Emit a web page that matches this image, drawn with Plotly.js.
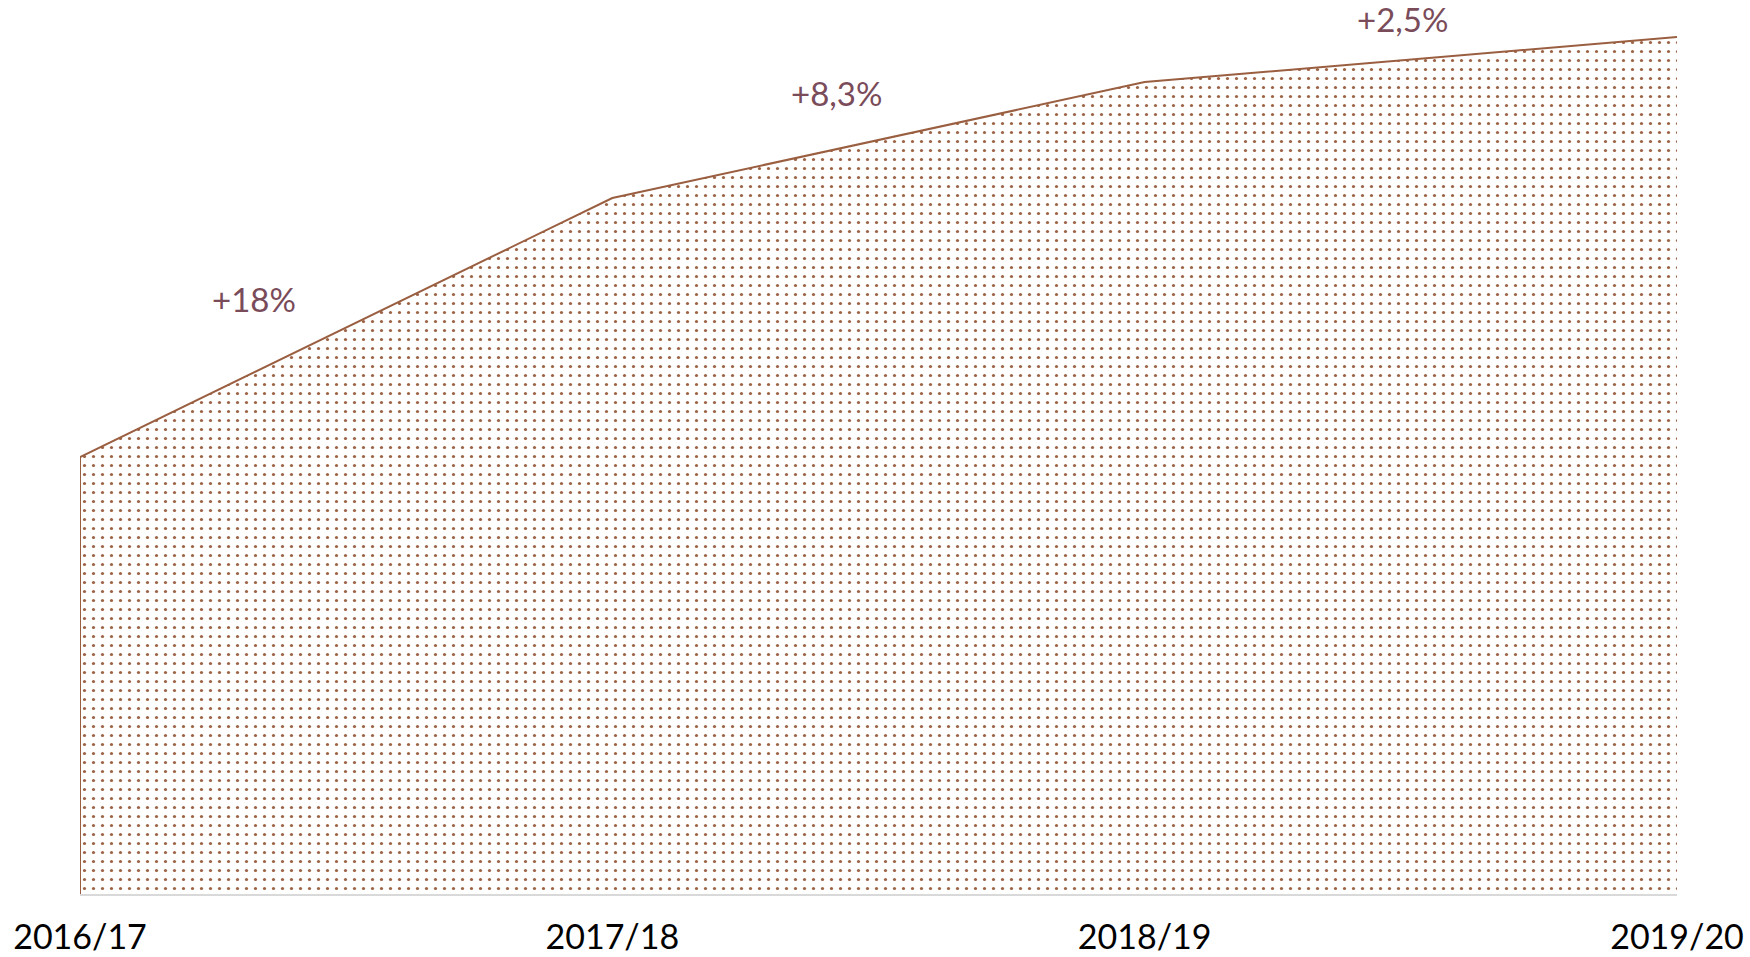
<!DOCTYPE html>
<html>
<head>
<meta charset="utf-8">
<script src="https://cdn.plot.ly/plotly-3.0.1.min.js"></script>
<style>html,body{margin:0;padding:0;background:#fff;}#chart{width:1750px;height:957px;}</style>
</head>
<body>
<div id="chart"></div>
<script>
const years = ["2016/17", "2017/18", "2018/19", "2019/20"];
const values = [43.7, 69.6, 81.2, 85.7];
const growthLabels = ["+18%", "+8,3%", "+2,5%"];
const labelPosX = [0.109, 0.474, 0.828];
const labelPosY = [0.681, 0.917, 1.001];

const lineColor = "#9a5e40";
const textColor = "#7a4b59";
const fontFam = "Lato, 'Noto Sans', 'DejaVu Sans', sans-serif";

const traces = [
  {
    x: years, y: values, type: "scatter", mode: "lines",
    line: {color: lineColor, width: 2},
    fill: "tozeroy",
    fillcolor: "rgba(0,0,0,0)",
    fillpattern: {shape: ".", fgcolor: "#9c6445", bgcolor: "#ffffff", size: 9, solidity: 0.1},
    hoverinfo: "skip", showlegend: false
  },
  {
    x: [years[0], years[0]], y: [0, values[0]], type: "scatter", mode: "lines",
    line: {color: lineColor, width: 2}, hoverinfo: "skip", showlegend: false
  }
];

const annotations = growthLabels.map((t, i) => ({
  text: t, xref: "paper", yref: "paper", x: labelPosX[i], y: labelPosY[i],
  xanchor: "center", yanchor: "middle", showarrow: false,
  font: {family: fontFam, size: 33, color: textColor}
}));

const layout = {
  width: 1750, height: 957,
  margin: {l: 80, r: 73, t: 20, b: 63},
  paper_bgcolor: "#ffffff", plot_bgcolor: "#ffffff",
  showlegend: false,
  xaxis: {
    type: "category", range: [0, 3], showgrid: false, zeroline: false,
    showline: true, linecolor: "#d9d9d9", linewidth: 2,
    ticks: "", ticklabelstandoff: 12,
    tickfont: {family: fontFam, size: 34, color: "#000000"}
  },
  yaxis: {
    range: [0, 87.4], visible: false, showgrid: false, zeroline: false
  },
  annotations: annotations
};

Plotly.newPlot("chart", traces, layout, {staticPlot: true});
</script>
</body>
</html>
